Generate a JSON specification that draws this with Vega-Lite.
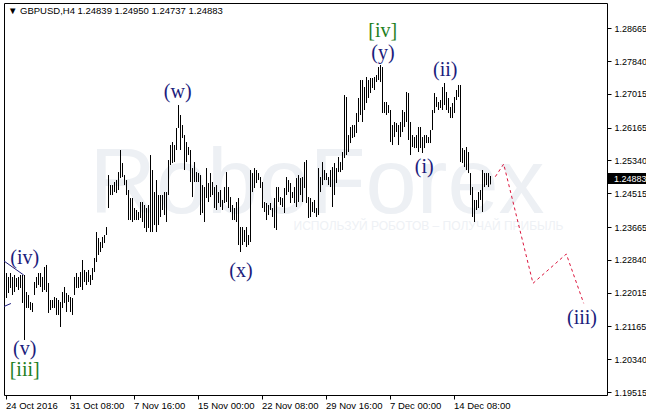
{
  "$schema": "https://vega.github.io/schema/vega-lite/v6.json",
  "width": 603,
  "height": 392,
  "padding": {"left": 2, "top": 3, "right": 0, "bottom": 0},
  "background": "white",
  "config": {
    "view": {"stroke": "black", "strokeWidth": 1},
    "font": "Liberation Sans",
    "axis": {"labelOverlap": false, "labelFlush": false, "labelBound": false}
  },
  "layer": [
    {
      "data": {"values": [{"n": 157.25, "p": 1.24018, "t": "RoboForex"}]},
      "mark": {"type": "text", "fontSize": 92, "font": "Liberation Sans", "color": "#edf0f4", "align": "center", "baseline": "alphabetic"},
      "encoding": {
        "x": {"field": "n", "type": "quantitative", "title": null},
        "y": {"field": "p", "type": "quantitative", "title": null},
        "text": {"field": "t"}
      }
    },
    {
      "data": {"values": [{"n": 213, "p": 1.23591, "t": "ИСПОЛЬЗУЙ РОБОТОВ – ПОЛУЧАЙ ПРИБЫЛЬ"}]},
      "mark": {"type": "text", "fontSize": 12, "font": "Liberation Sans", "color": "#eef1f5", "align": "center", "baseline": "alphabetic"},
      "encoding": {
        "x": {"field": "n", "type": "quantitative", "title": null},
        "y": {"field": "p", "type": "quantitative", "title": null},
        "text": {"field": "t"}
      }
    },
    {
      "data": {"values": [
        {"n":1,"h":1.22283,"l":1.22082},{"n":2,"h":1.22509,"l":1.21880},{"n":3,"h":1.22409,"l":1.22006},{"n":4,"h":1.22509,"l":1.22132},
        {"n":5,"h":1.22409,"l":1.21956},{"n":6,"h":1.22459,"l":1.22031},{"n":7,"h":1.22383,"l":1.22157},{"n":8,"h":1.22409,"l":1.22082},
        {"n":9,"h":1.22459,"l":1.22132},{"n":10,"h":1.22459,"l":1.21755},{"n":11,"h":1.22459,"l":1.20824},{"n":12,"h":1.22031,"l":1.21629},
        {"n":13,"h":1.21956,"l":1.21629},{"n":14,"h":1.21780,"l":1.21578},{"n":15,"h":1.21755,"l":1.21528},{"n":16,"h":1.22283,"l":1.21956},
        {"n":17,"h":1.22409,"l":1.22132},{"n":18,"h":1.22509,"l":1.22207},{"n":19,"h":1.22509,"l":1.22157},{"n":20,"h":1.22409,"l":1.22031},
        {"n":21,"h":1.22660,"l":1.22082},{"n":22,"h":1.22711,"l":1.22031},{"n":23,"h":1.22258,"l":1.21503},{"n":24,"h":1.21830,"l":1.21578},
        {"n":25,"h":1.21830,"l":1.21629},{"n":26,"h":1.21905,"l":1.21629},{"n":27,"h":1.21880,"l":1.21453},{"n":28,"h":1.21830,"l":1.21453},
        {"n":29,"h":1.21780,"l":1.21151},{"n":30,"h":1.22031,"l":1.21629},{"n":31,"h":1.22157,"l":1.21755},{"n":32,"h":1.22006,"l":1.21528},
        {"n":33,"h":1.21956,"l":1.21780},{"n":34,"h":1.21905,"l":1.21528},{"n":35,"h":1.21880,"l":1.21453},{"n":36,"h":1.22409,"l":1.21956},
        {"n":37,"h":1.22509,"l":1.22132},{"n":38,"h":1.22409,"l":1.22132},{"n":39,"h":1.22534,"l":1.22157},{"n":40,"h":1.22836,"l":1.22082},
        {"n":41,"h":1.22585,"l":1.22283},{"n":42,"h":1.22534,"l":1.22207},{"n":43,"h":1.22585,"l":1.22283},{"n":44,"h":1.22459,"l":1.22207},
        {"n":45,"h":1.22635,"l":1.22333},{"n":46,"h":1.22887,"l":1.22534},{"n":47,"h":1.23540,"l":1.22786},{"n":48,"h":1.23389,"l":1.22962},
        {"n":49,"h":1.23289,"l":1.23037},{"n":50,"h":1.23415,"l":1.23138},{"n":51,"h":1.23465,"l":1.23264},{"n":52,"h":1.23666,"l":1.23465},
        {"n":53,"h":1.24974,"l":1.24144},{"n":54,"h":1.24722,"l":1.24471},{"n":55,"h":1.24722,"l":1.24471},{"n":56,"h":1.24798,"l":1.24546},
        {"n":57,"h":1.24848,"l":1.24521},{"n":58,"h":1.25049,"l":1.24597},{"n":59,"h":1.25603,"l":1.24898},{"n":60,"h":1.25276,"l":1.24924},
        {"n":61,"h":1.24974,"l":1.24722},{"n":62,"h":1.24848,"l":1.24471},{"n":63,"h":1.24597,"l":1.23842},{"n":64,"h":1.24395,"l":1.23842},
        {"n":65,"h":1.24395,"l":1.23792},{"n":66,"h":1.24144,"l":1.23842},{"n":67,"h":1.24094,"l":1.23842},{"n":68,"h":1.24044,"l":1.23842},
        {"n":69,"h":1.24295,"l":1.23893},{"n":70,"h":1.24295,"l":1.23792},{"n":71,"h":1.24220,"l":1.23641},{"n":72,"h":1.24144,"l":1.23540},
        {"n":73,"h":1.24220,"l":1.23641},{"n":74,"h":1.25477,"l":1.23540},{"n":75,"h":1.25100,"l":1.23540},{"n":76,"h":1.24546,"l":1.23716},
        {"n":77,"h":1.24848,"l":1.23540},{"n":78,"h":1.24471,"l":1.23716},{"n":79,"h":1.24471,"l":1.23918},{"n":80,"h":1.24471,"l":1.24094},
        {"n":81,"h":1.24546,"l":1.23968},{"n":82,"h":1.24546,"l":1.23792},{"n":83,"h":1.25351,"l":1.24471},{"n":84,"h":1.25729,"l":1.25226},
        {"n":85,"h":1.25804,"l":1.25276},{"n":86,"h":1.25729,"l":1.25301},{"n":87,"h":1.26157,"l":1.25603},{"n":88,"h":1.26735,"l":1.26157},
        {"n":89,"h":1.26484,"l":1.25603},{"n":90,"h":1.26232,"l":1.25905},{"n":91,"h":1.25980,"l":1.25100},{"n":92,"h":1.25804,"l":1.25301},
        {"n":93,"h":1.25679,"l":1.25477},{"n":94,"h":1.25603,"l":1.24798},{"n":95,"h":1.25150,"l":1.24420},{"n":96,"h":1.25301,"l":1.24798},
        {"n":97,"h":1.25049,"l":1.24798},{"n":98,"h":1.25024,"l":1.24798},{"n":99,"h":1.24974,"l":1.23968},{"n":100,"h":1.24722,"l":1.24018},
        {"n":101,"h":1.24672,"l":1.23792},{"n":102,"h":1.25150,"l":1.24395},{"n":103,"h":1.24773,"l":1.24295},{"n":104,"h":1.25024,"l":1.24420},
        {"n":105,"h":1.24798,"l":1.24471},{"n":106,"h":1.24672,"l":1.24144},{"n":107,"h":1.24722,"l":1.24094},{"n":108,"h":1.24546,"l":1.24270},
        {"n":109,"h":1.24597,"l":1.24169},{"n":110,"h":1.24346,"l":1.24094},{"n":111,"h":1.24672,"l":1.24270},{"n":112,"h":1.25049,"l":1.24295},
        {"n":113,"h":1.24672,"l":1.24144},{"n":114,"h":1.24420,"l":1.24044},{"n":115,"h":1.24220,"l":1.23842},{"n":116,"h":1.24144,"l":1.23842},
        {"n":117,"h":1.24295,"l":1.23792},{"n":118,"h":1.24395,"l":1.23213},{"n":119,"h":1.23666,"l":1.23037},{"n":120,"h":1.23666,"l":1.23213},
        {"n":121,"h":1.23591,"l":1.23289},{"n":122,"h":1.23666,"l":1.23163},{"n":123,"h":1.23465,"l":1.23213},{"n":124,"h":1.25100,"l":1.23289},
        {"n":125,"h":1.25024,"l":1.24546},{"n":126,"h":1.25150,"l":1.24647},{"n":127,"h":1.25100,"l":1.24773},{"n":128,"h":1.25024,"l":1.24848},
        {"n":129,"h":1.24924,"l":1.24647},{"n":130,"h":1.24798,"l":1.24144},{"n":131,"h":1.24295,"l":1.24044},{"n":132,"h":1.24270,"l":1.23842},
        {"n":133,"h":1.24220,"l":1.23968},{"n":134,"h":1.24270,"l":1.24094},{"n":135,"h":1.24144,"l":1.23918},{"n":136,"h":1.24395,"l":1.23641},
        {"n":137,"h":1.24672,"l":1.23591},{"n":138,"h":1.24672,"l":1.24295},{"n":139,"h":1.24420,"l":1.24220},{"n":140,"h":1.24395,"l":1.24169},
        {"n":141,"h":1.24647,"l":1.24018},{"n":142,"h":1.24924,"l":1.24471},{"n":143,"h":1.24848,"l":1.24546},{"n":144,"h":1.24773,"l":1.24270},
        {"n":145,"h":1.24546,"l":1.24395},{"n":146,"h":1.24672,"l":1.24270},{"n":147,"h":1.24898,"l":1.24169},{"n":148,"h":1.24974,"l":1.24295},
        {"n":149,"h":1.24898,"l":1.24471},{"n":150,"h":1.24924,"l":1.24295},{"n":151,"h":1.25301,"l":1.24647},{"n":152,"h":1.25351,"l":1.24270},
        {"n":153,"h":1.24420,"l":1.23893},{"n":154,"h":1.24395,"l":1.23918},{"n":155,"h":1.24295,"l":1.24044},{"n":156,"h":1.24346,"l":1.24018},
        {"n":157,"h":1.24144,"l":1.23918},{"n":158,"h":1.25150,"l":1.23968},{"n":159,"h":1.24924,"l":1.24546},{"n":160,"h":1.25301,"l":1.24722},
        {"n":161,"h":1.25100,"l":1.24848},{"n":162,"h":1.25024,"l":1.24848},{"n":163,"h":1.24924,"l":1.24722},{"n":164,"h":1.25100,"l":1.24672},
        {"n":165,"h":1.25175,"l":1.24169},{"n":166,"h":1.25276,"l":1.24471},{"n":167,"h":1.25150,"l":1.24773},{"n":168,"h":1.25427,"l":1.25049},
        {"n":169,"h":1.25301,"l":1.25049},{"n":170,"h":1.25553,"l":1.25100},{"n":171,"h":1.26987,"l":1.25402},{"n":172,"h":1.26937,"l":1.25477},
        {"n":173,"h":1.25980,"l":1.25553},{"n":174,"h":1.26182,"l":1.25779},{"n":175,"h":1.26232,"l":1.25905},{"n":176,"h":1.26232,"l":1.25930},
        {"n":177,"h":1.26534,"l":1.26031},{"n":178,"h":1.26912,"l":1.26308},{"n":179,"h":1.27364,"l":1.26484},{"n":180,"h":1.27364,"l":1.26308},
        {"n":181,"h":1.27188,"l":1.26610},{"n":182,"h":1.27440,"l":1.26786},{"n":183,"h":1.27364,"l":1.26912},{"n":184,"h":1.27415,"l":1.27037},
        {"n":185,"h":1.27415,"l":1.27163},{"n":186,"h":1.27440,"l":1.27113},{"n":187,"h":1.27490,"l":1.27314},{"n":188,"h":1.27691,"l":1.27364},
        {"n":189,"h":1.27742,"l":1.27314},{"n":190,"h":1.27691,"l":1.26534},{"n":191,"h":1.26811,"l":1.26534},{"n":192,"h":1.26811,"l":1.26484},
        {"n":193,"h":1.26735,"l":1.26534},{"n":194,"h":1.26610,"l":1.25804},{"n":195,"h":1.26232,"l":1.25729},{"n":196,"h":1.26308,"l":1.25930},
        {"n":197,"h":1.26282,"l":1.26056},{"n":198,"h":1.26232,"l":1.25729},{"n":199,"h":1.26308,"l":1.25930},{"n":200,"h":1.26610,"l":1.26056},
        {"n":201,"h":1.26559,"l":1.26182},{"n":202,"h":1.27063,"l":1.26308},{"n":203,"h":1.27037,"l":1.25855},{"n":204,"h":1.26308,"l":1.25477},
        {"n":205,"h":1.25980,"l":1.25679},{"n":206,"h":1.25930,"l":1.25653},{"n":207,"h":1.25980,"l":1.25653},{"n":208,"h":1.26182,"l":1.25553},
        {"n":209,"h":1.26182,"l":1.25653},{"n":210,"h":1.25930,"l":1.25528},{"n":211,"h":1.25980,"l":1.25653},{"n":212,"h":1.25980,"l":1.25779},
        {"n":213,"h":1.25930,"l":1.25779},{"n":214,"h":1.26106,"l":1.25779},{"n":215,"h":1.26610,"l":1.26106},{"n":216,"h":1.27037,"l":1.26534},
        {"n":217,"h":1.26937,"l":1.26685},{"n":218,"h":1.26811,"l":1.26610},{"n":219,"h":1.26861,"l":1.26660},{"n":220,"h":1.27188,"l":1.26610},
        {"n":221,"h":1.27289,"l":1.26735},{"n":222,"h":1.27063,"l":1.26610},{"n":223,"h":1.26912,"l":1.26534},{"n":224,"h":1.26685,"l":1.26408},
        {"n":225,"h":1.26786,"l":1.26408},{"n":226,"h":1.26937,"l":1.26534},{"n":227,"h":1.27113,"l":1.26861},{"n":228,"h":1.27239,"l":1.26937},
        {"n":229,"h":1.27239,"l":1.25301},{"n":230,"h":1.25653,"l":1.25276},{"n":231,"h":1.25603,"l":1.25175},{"n":232,"h":1.25679,"l":1.25100},
        {"n":233,"h":1.25553,"l":1.25024},{"n":234,"h":1.25024,"l":1.24471},{"n":235,"h":1.24672,"l":1.23918},{"n":236,"h":1.24346,"l":1.23792},
        {"n":237,"h":1.24346,"l":1.24094},{"n":238,"h":1.24546,"l":1.24144},{"n":239,"h":1.24597,"l":1.24346},{"n":240,"h":1.25100,"l":1.24044},
        {"n":241,"h":1.25024,"l":1.24672},{"n":242,"h":1.25024,"l":1.24722},{"n":243,"h":1.25024,"l":1.24672},{"n":244,"h":1.24950,"l":1.24737}
      ]},
      "mark": {"type": "rule", "color": "black", "strokeWidth": 1},
      "encoding": {
        "x": {
          "field": "n", "type": "quantitative", "title": null,
          "scale": {"domain": [0.75, 302.25], "nice": false, "zero": false},
          "axis": {
            "orient": "bottom", "title": null, "grid": false, "domain": false, "tickCount": 40,
            "values": [1.5, 33.5, 65.5, 97.5, 129.5, 161.5, 193.5, 225.5],
            "labelExpr": "['24 Oct 2016','31 Oct 08:00','7 Nov 16:00','15 Nov 00:00','22 Nov 08:00','29 Nov 16:00','7 Dec 00:00','14 Dec 08:00'][floor(datum.value/32)]",
            "ticks": true, "tickSize": 4, "tickColor": "black", "tickWidth": 1, "labelAlign": "left", "labelBaseline": "top", "labelPadding": 1,
            "labelFontSize": 9.5, "labelFont": "Liberation Sans", "labelColor": "black", "labelFlush": false, "labelOverlap": false
          }
        },
        "y": {
          "field": "h", "type": "quantitative", "title": null,
          "scale": {"domain": [1.1944, 1.29302], "nice": false, "zero": false},
          "axis": {
            "orient": "right", "title": null, "grid": false, "domain": false, "tickCount": 40,
            "values": [1.28665, 1.2784, 1.27015, 1.26165, 1.2534, 1.24515, 1.23665, 1.2284, 1.22015, 1.21165, 1.2034, 1.19515],
            "format": ".5f", "ticks": true, "tickSize": 4, "tickColor": "black", "tickWidth": 1, "labelPadding": 3,
            "labelFontSize": 9, "labelFont": "Liberation Sans", "labelColor": "black", "labelFlush": false, "labelOverlap": false
          }
        },
        "y2": {"field": "l"}
      }
    },
    {
      "data": {"values": [
        {"s": "a", "n": 0.75, "p": 1.22811}, {"s": "a", "n": 10.6, "p": 1.22459},
        {"s": "b", "n": 0.75, "p": 1.21667}, {"s": "b", "n": 4.2, "p": 1.21742}
      ]},
      "mark": {"type": "line", "color": "#1c1c7c", "strokeWidth": 1},
      "encoding": {
        "x": {"field": "n", "type": "quantitative", "title": null},
        "y": {"field": "p", "type": "quantitative", "title": null},
        "detail": {"field": "s"}
      }
    },
    {
      "data": {"values": [
        {"n": 246.4, "p": 1.24932}, {"n": 250.6, "p": 1.25251}, {"n": 265.25, "p": 1.2225},
        {"n": 281.9, "p": 1.22987}, {"n": 290.6, "p": 1.21747}
      ]},
      "mark": {"type": "line", "color": "#dc143c", "strokeWidth": 1, "strokeDash": [3, 3]},
      "encoding": {
        "x": {"field": "n", "type": "quantitative", "title": null},
        "y": {"field": "p", "type": "quantitative", "title": null}
      }
    },
    {
      "data": {"values": [
        {"n": 87.6, "p": 1.2707, "t": "(w)", "d": "minor"},
        {"n": 190.1, "p": 1.28605, "t": "[iv]", "d": "major"},
        {"n": 190.25, "p": 1.28036, "t": "(y)", "d": "minor"},
        {"n": 221.4, "p": 1.27616, "t": "(ii)", "d": "minor"},
        {"n": 11.1, "p": 1.22894, "t": "(iv)", "d": "minor"},
        {"n": 11.1, "p": 1.2059, "t": "(v)", "d": "minor"},
        {"n": 11.1, "p": 1.20069, "t": "[iii]", "d": "major"},
        {"n": 119.25, "p": 1.22567, "t": "(x)", "d": "minor"},
        {"n": 210.9, "p": 1.25168, "t": "(i)", "d": "minor"},
        {"n": 289.75, "p": 1.2137, "t": "(iii)", "d": "minor"}
      ]},
      "mark": {"type": "text", "font": "Liberation Serif", "fontSize": 20, "align": "center", "baseline": "middle"},
      "encoding": {
        "x": {"field": "n", "type": "quantitative", "title": null},
        "y": {"field": "p", "type": "quantitative", "title": null},
        "text": {"field": "t"},
        "color": {"field": "d", "type": "nominal", "scale": {"domain": ["minor", "major"], "range": ["#1c1c7c", "#1f7f1f"]}, "legend": null}
      }
    },
    {
      "data": {"values": [{"n": 2.75, "p": 1.291, "t": "▼ GBPUSD,H4  1.24839 1.24950 1.24737 1.24883"}]},
      "mark": {"type": "text", "color": "black", "fontSize": 9.5, "font": "Liberation Sans", "align": "left", "baseline": "middle"},
      "encoding": {
        "x": {"field": "n", "type": "quantitative", "title": null},
        "y": {"field": "p", "type": "quantitative", "title": null},
        "text": {"field": "t"}
      }
    },
    {
      "data": {"values": [{"p": 1.24883, "t": "1.24883"}]},
      "mark": {"type": "rect", "color": "black"},
      "encoding": {
        "x": {"datum": 302.6, "type": "quantitative", "title": null},
        "x2": {"datum": 322.6},
        "y": {"datum": 1.25024, "type": "quantitative", "title": null},
        "y2": {"datum": 1.24748}
      }
    },
    {
      "data": {"values": [{"p": 1.24883, "t": "1.24883"}]},
      "mark": {"type": "text", "color": "white", "fontSize": 9, "font": "Liberation Sans", "align": "left", "baseline": "middle"},
      "encoding": {
        "x": {"datum": 305.75, "type": "quantitative", "title": null},
        "y": {"field": "p", "type": "quantitative", "title": null},
        "text": {"field": "t"}
      }
    }
  ]
}
